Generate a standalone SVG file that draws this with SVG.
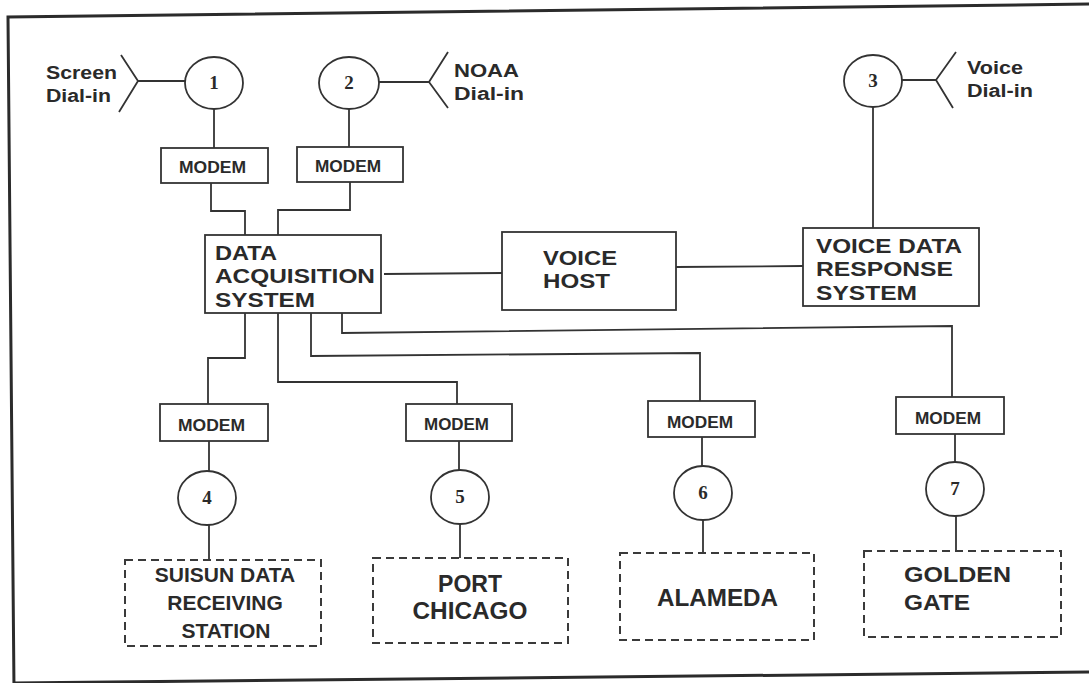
<svg xmlns="http://www.w3.org/2000/svg" width="1089" height="683" viewBox="0 0 1089 683">
  <style>
    .frame { fill: none; stroke: #2b2b2b; stroke-width: 3; }
    .box { fill: #fff; stroke: #333; stroke-width: 1.8; }
    .site { fill: #fff; stroke: #3a3a3a; stroke-width: 2; stroke-dasharray: 8 5; }
    .node { fill: #fff; stroke: #333; stroke-width: 1.8; }
    .wire { fill: none; stroke: #333; stroke-width: 1.8; }
    .lbl { font-family: "Liberation Sans", Arial, sans-serif; font-weight: bold; fill: #2a2a2a; }
    .mid { text-anchor: middle; }
    .num { font-family: "Liberation Serif", "Times New Roman", serif; font-weight: bold; font-size: 19px; fill: #2a2a2a; text-anchor: middle; }
    .modem { font-size: 16px; }
    .sys { font-size: 20px; }
    .dial { font-size: 18px; }
  </style>

  <rect width="1089" height="683" fill="#fff"/>

  <!-- outer frame -->
  <g id="frame" class="frame">
    <path d="M14,690 L8,17 L1095,4"/>
    <path d="M13,683 L1095,672"/>
  </g>

  <!-- connectors -->
  <g id="connectors" class="wire">
    <!-- dial-in antennas -->
    <path d="M185,81 H138 M121,55 L138,81 L119,112"/>
    <path d="M379,82 H429 M448,52 L429,82 L448,108"/>
    <path d="M902,80 H936 M956,52 L936,80 L953,108"/>
    <!-- dial-in ports to modems -->
    <path d="M214,109 V148"/>
    <path d="M349,109 V147"/>
    <path d="M873,106 V228"/>
    <!-- modems to acquisition system -->
    <path d="M211,183 V211 H245 V235"/>
    <path d="M350,182 V210 H278 V235"/>
    <!-- acquisition system to voice host to response system -->
    <path d="M384,274 L502,273"/>
    <path d="M676,267 L803,266"/>
    <!-- acquisition system to remote modems -->
    <path d="M245,313 V358 H208 V404"/>
    <path d="M278,313 V382 H457 V404"/>
    <path d="M311,313 V356 L700,353 V401"/>
    <path d="M342,313 V333 L952,326 V397"/>
    <!-- remote modems to ports to stations -->
    <path d="M209,441 V472 M209,525 V560"/>
    <path d="M459,441 V470 M460,524 V558"/>
    <path d="M702,437 V466 M703,520 V553"/>
    <path d="M955,434 V462 M956,516 V551"/>
  </g>

  <!-- dial-in ports -->
  <g id="port1">
    <ellipse class="node" cx="214" cy="83" rx="29" ry="26"/>
    <text class="num" x="214" y="89">1</text>
    <text class="lbl dial" x="46" y="79" textLength="71" lengthAdjust="spacingAndGlyphs">Screen</text>
    <text class="lbl dial" x="46" y="102" textLength="65" lengthAdjust="spacingAndGlyphs">Dial-in</text>
  </g>
  <g id="port2">
    <ellipse class="node" cx="349" cy="83" rx="30" ry="26"/>
    <text class="num" x="349" y="89">2</text>
    <text class="lbl dial" x="454" y="77" textLength="65" lengthAdjust="spacingAndGlyphs">NOAA</text>
    <text class="lbl dial" x="454" y="100" textLength="70" lengthAdjust="spacingAndGlyphs">Dial-in</text>
  </g>
  <g id="port3">
    <ellipse class="node" cx="873" cy="81" rx="29" ry="26"/>
    <text class="num" x="873" y="87">3</text>
    <text class="lbl dial" x="967" y="74" textLength="56" lengthAdjust="spacingAndGlyphs">Voice</text>
    <text class="lbl dial" x="967" y="97" textLength="66" lengthAdjust="spacingAndGlyphs">Dial-in</text>
  </g>

  <!-- dial-in modems -->
  <g id="modem1">
    <rect class="box" x="161" y="148" width="107" height="35"/>
    <text class="lbl modem" x="179" y="173" textLength="67" lengthAdjust="spacingAndGlyphs">MODEM</text>
  </g>
  <g id="modem2">
    <rect class="box" x="297" y="147" width="106" height="35"/>
    <text class="lbl modem" x="315" y="172" textLength="66" lengthAdjust="spacingAndGlyphs">MODEM</text>
  </g>

  <!-- central systems -->
  <g id="data-acquisition">
    <rect class="box" x="205" y="235" width="176" height="78"/>
    <text class="lbl sys" x="215" y="260" textLength="62" lengthAdjust="spacingAndGlyphs">DATA</text>
    <text class="lbl sys" x="215" y="283" textLength="160" lengthAdjust="spacingAndGlyphs">ACQUISITION</text>
    <text class="lbl sys" x="215" y="307" textLength="100" lengthAdjust="spacingAndGlyphs">SYSTEM</text>
  </g>
  <g id="voice-host">
    <rect class="box" x="502" y="232" width="174" height="78"/>
    <text class="lbl sys" x="543" y="265" textLength="74" lengthAdjust="spacingAndGlyphs">VOICE</text>
    <text class="lbl sys" x="543" y="288" textLength="67" lengthAdjust="spacingAndGlyphs">HOST</text>
  </g>
  <g id="voice-response">
    <rect class="box" x="803" y="228" width="176" height="78"/>
    <text class="lbl sys" x="816" y="253" textLength="146" lengthAdjust="spacingAndGlyphs">VOICE DATA</text>
    <text class="lbl sys" x="816" y="276" textLength="137" lengthAdjust="spacingAndGlyphs">RESPONSE</text>
    <text class="lbl sys" x="816" y="300" textLength="101" lengthAdjust="spacingAndGlyphs">SYSTEM</text>
  </g>

  <!-- remote modems -->
  <g id="modem4">
    <rect class="box" x="160" y="404" width="108" height="37"/>
    <text class="lbl modem" x="178" y="431" textLength="67" lengthAdjust="spacingAndGlyphs">MODEM</text>
  </g>
  <g id="modem5">
    <rect class="box" x="406" y="404" width="106" height="37"/>
    <text class="lbl modem" x="424" y="430" textLength="65" lengthAdjust="spacingAndGlyphs">MODEM</text>
  </g>
  <g id="modem6">
    <rect class="box" x="648" y="401" width="107" height="36"/>
    <text class="lbl modem" x="667" y="428" textLength="66" lengthAdjust="spacingAndGlyphs">MODEM</text>
  </g>
  <g id="modem7">
    <rect class="box" x="896" y="397" width="108" height="37"/>
    <text class="lbl modem" x="915" y="424" textLength="66" lengthAdjust="spacingAndGlyphs">MODEM</text>
  </g>

  <!-- remote ports -->
  <g id="port4">
    <ellipse class="node" cx="207" cy="498" rx="29" ry="27"/>
    <text class="num" x="207" y="504">4</text>
  </g>
  <g id="port5">
    <ellipse class="node" cx="460" cy="497" rx="29" ry="27"/>
    <text class="num" x="460" y="503">5</text>
  </g>
  <g id="port6">
    <ellipse class="node" cx="703" cy="493" rx="29" ry="27"/>
    <text class="num" x="703" y="499">6</text>
  </g>
  <g id="port7">
    <ellipse class="node" cx="955" cy="489" rx="29" ry="27"/>
    <text class="num" x="955" y="495">7</text>
  </g>

  <!-- remote stations -->
  <g id="suisun">
    <rect class="site" x="125" y="560" width="196" height="86"/>
    <text class="lbl mid" font-size="21" x="225" y="582">SUISUN DATA</text>
    <text class="lbl mid" font-size="21" x="225" y="610">RECEIVING</text>
    <text class="lbl mid" font-size="21" x="226" y="638">STATION</text>
  </g>
  <g id="port-chicago">
    <rect class="site" x="373" y="558" width="195" height="85"/>
    <text class="lbl mid" font-size="23" x="470" y="592">PORT</text>
    <text class="lbl mid" font-size="23" x="470" y="619" textLength="115" lengthAdjust="spacingAndGlyphs">CHICAGO</text>
  </g>
  <g id="alameda">
    <rect class="site" x="620" y="553" width="194" height="87"/>
    <text class="lbl" font-size="24" x="657" y="606" textLength="121" lengthAdjust="spacingAndGlyphs">ALAMEDA</text>
  </g>
  <g id="golden-gate">
    <rect class="site" x="864" y="551" width="197" height="86"/>
    <text class="lbl" font-size="22" x="904" y="582" textLength="107" lengthAdjust="spacingAndGlyphs">GOLDEN</text>
    <text class="lbl" font-size="22" x="904" y="610" textLength="66" lengthAdjust="spacingAndGlyphs">GATE</text>
  </g>
</svg>
